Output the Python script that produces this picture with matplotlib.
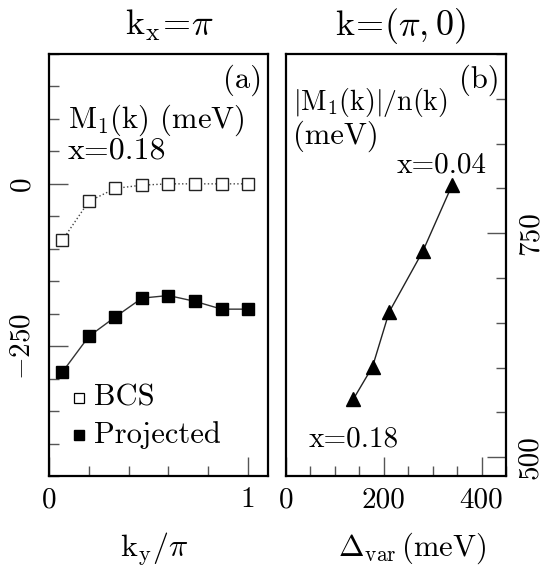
import matplotlib
matplotlib.use("Agg")
import matplotlib.pyplot as plt
from matplotlib.ticker import FixedLocator, MultipleLocator

plt.rcParams['font.family'] = ['cmr10', 'DejaVu Serif']
plt.rcParams['mathtext.fontset'] = 'cm'
plt.rcParams['axes.unicode_minus'] = False

# ---- data ----
ky = [0.067, 0.2, 0.333, 0.467, 0.6, 0.733, 0.867, 1.0]
m1_bcs = [-87, -27, -7, -2, 0, 0, 0, 0]
m1_proj = [-290, -235, -205, -176, -172, -181, -193, -193]

delta_var = [138, 177, 211, 280, 340]
ratio = [565, 601, 662, 730, 804]

left_xticks = [0, 1]
left_xticklabels = ['0', '1']
left_yticks = [-250, 0]
left_yticklabels = [r'$-250$', '0']
right_xticks = [0, 200, 400]
right_xticklabels = ['0', '200', '400']
right_yticks = [500, 750]
right_yticklabels = ['500', '750']

W, H = 545, 573
fig = plt.figure(figsize=(W / 100, H / 100), dpi=100)

def ax_rect(x0, x1, y0, y1):
    return [x0 / W, 1 - y1 / H, (x1 - x0) / W, (y1 - y0) / H]

axa = fig.add_axes(ax_rect(49, 268, 54, 476))
axb = fig.add_axes(ax_rect(286, 506, 54, 476))

tick_col = '#555555'
for ax in (axa, axb):
    for s in ax.spines.values():
        s.set_linewidth(1.6)
        s.set_color('black')
    ax.tick_params(which='both', direction='in', color=tick_col, width=1.0,
                   labelsize=21)
    ax.tick_params(which='major', length=13.5)
    ax.tick_params(which='minor', length=7)

# ---- panel (a) ----
axa.plot(ky, m1_bcs, linestyle=':', color='#444444', linewidth=1.0,
         marker='s', markersize=8.3, markerfacecolor='white',
         markeredgecolor='#222222', markeredgewidth=1.0)
axa.plot(ky, m1_proj, linestyle='-', color='#333333', linewidth=1.0,
         marker='s', markersize=8.6, markerfacecolor='black',
         markeredgecolor='black')
axa.set_xlim(0, 1.1)
axa.set_ylim(-450, 200)
axa.xaxis.set_major_locator(FixedLocator(left_xticks))
axa.set_xticklabels(left_xticklabels)
axa.xaxis.set_minor_locator(MultipleLocator(0.2))
axa.yaxis.set_major_locator(FixedLocator(left_yticks))
axa.set_yticklabels(left_yticklabels)
axa.yaxis.set_minor_locator(MultipleLocator(50))
axa.tick_params(axis='y', which='both', left=True, right=False,
                labelrotation=90, pad=10)
axa.tick_params(axis='x', which='both', bottom=True, top=False, pad=8)
for lab in axa.get_yticklabels():
    lab.set_va('center')

axa.text(0.973, 0.938, '(a)', transform=axa.transAxes, ha='right',
         va='center', fontsize=22)
axa.text(0.087, 0.843, r'M$_1$(k) (meV)', transform=axa.transAxes,
         ha='left', va='center', fontsize=22)
axa.text(0.087, 0.77, 'x=0.18', transform=axa.transAxes,
         ha='left', va='center', fontsize=23)
# legend
axa.plot([0.138], [0.185], transform=axa.transAxes, marker='s',
         markersize=6.5, markerfacecolor='white', markeredgecolor='black',
         markeredgewidth=0.9, linestyle='none', clip_on=False)
axa.plot([0.138], [0.097], transform=axa.transAxes, marker='s',
         markersize=7, markerfacecolor='black', markeredgecolor='black',
         linestyle='none', clip_on=False)
axa.text(0.205, 0.185, 'BCS', transform=axa.transAxes, ha='left',
         va='center', fontsize=22)
axa.text(0.205, 0.097, 'Projected', transform=axa.transAxes, ha='left',
         va='center', fontsize=22)

# ---- panel (b) ----
axb.plot(delta_var, ratio, linestyle='-', color='#222222', linewidth=1.0,
         marker='^', markersize=10.5, markerfacecolor='black',
         markeredgecolor='black')
axb.set_xlim(0, 450)
axb.set_ylim(479, 950)
axb.xaxis.set_major_locator(FixedLocator(right_xticks))
axb.set_xticklabels(right_xticklabels)
axb.xaxis.set_minor_locator(MultipleLocator(50))
axb.yaxis.set_major_locator(FixedLocator(right_yticks))
axb.set_yticklabels(right_yticklabels)
axb.yaxis.set_minor_locator(MultipleLocator(50))
axb.yaxis.tick_right()
axb.tick_params(axis='y', which='both', left=False, right=True,
                labelleft=False, labelright=True, labelrotation=90,
                pad=8, labelsize=21)
axb.tick_params(axis='x', which='both', bottom=True, top=False, pad=8)
for lab in axb.get_yticklabels():
    lab.set_va('center')

axb.text(0.973, 0.938, '(b)', transform=axb.transAxes, ha='right',
         va='center', fontsize=22)
axb.text(0.032, 0.884, r'$|\mathrm{M_1(k)}|/\mathrm{n(k)}$',
         transform=axb.transAxes, ha='left', va='center', fontsize=20)
axb.text(0.032, 0.806, '(meV)', transform=axb.transAxes,
         ha='left', va='center', fontsize=22)
axb.text(0.505, 0.737, 'x=0.04', transform=axb.transAxes,
         ha='left', va='center', fontsize=21)
axb.text(0.105, 0.088, 'x=0.18', transform=axb.transAxes,
         ha='left', va='center', fontsize=21)

# ---- titles and axis labels ----
fig.text(169 / W, 1 - 35 / H, r'$\mathrm{k_x\!=\!}\pi$', ha='center',
         va='baseline', fontsize=26)
fig.text(400 / W, 1 - 35 / H, r'$\mathrm{k\!=\!(}\pi\mathrm{,0)}$',
         ha='center', va='baseline', fontsize=26)
fig.text(154 / W, 1 - 556 / H, r'$\mathrm{k_y/}\pi$', ha='center',
         va='baseline', fontsize=23)
fig.text(412 / W, 1 - 556 / H, r'$\Delta_{\mathrm{var}}\,\mathrm{(meV)}$',
         ha='center', va='baseline', fontsize=22)

fig.savefig('out.png', dpi=100)
